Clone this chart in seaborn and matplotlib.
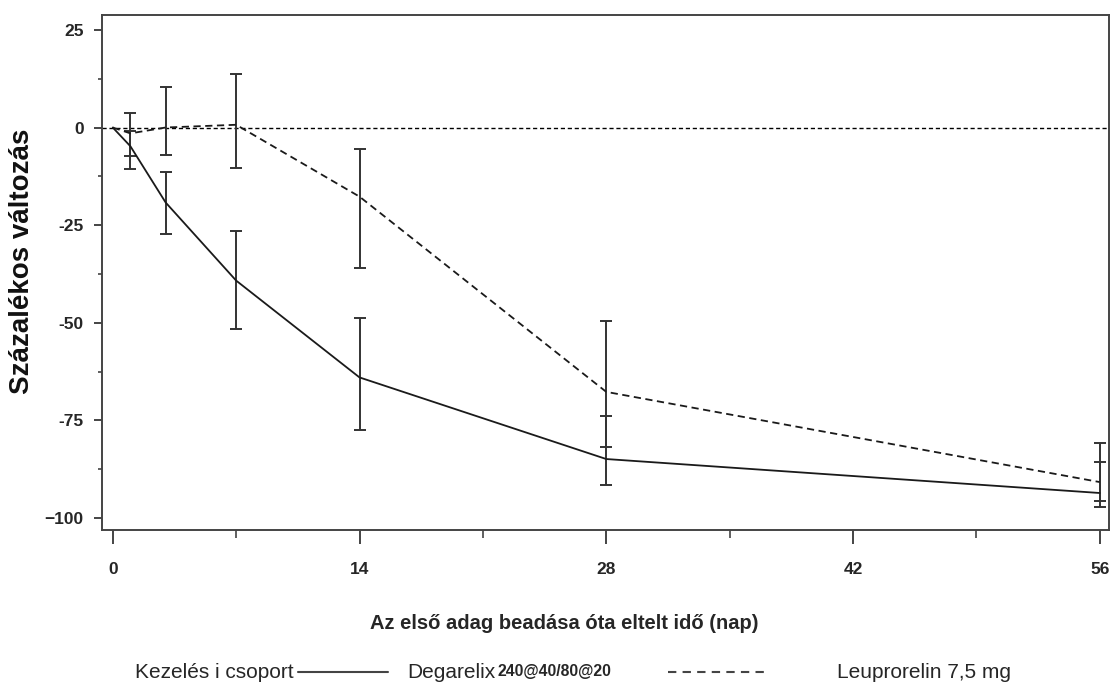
import numpy as np
import pandas as pd
import matplotlib
matplotlib.use("Agg")
import matplotlib.pyplot as plt
import seaborn as sns
from matplotlib.lines import Line2D
from matplotlib.ticker import MultipleLocator, FixedLocator

# data
days = [0, 1, 3, 7, 14, 28, 56]
degarelix_mean = [0, -4.8, -19.2, -39.2, -64.0, -84.9, -93.6]
degarelix_lo = [0, -10.5, -27.2, -51.5, -77.4, -91.5, -97.2]
degarelix_hi = [0, 3.6, -11.5, -26.4, -48.7, -73.8, -85.7]
leuprorelin_mean = [0, -1.5, 0.0, 0.7, -17.7, -67.7, -90.8]
leuprorelin_lo = [0, -7.2, -7.0, -10.3, -35.9, -81.8, -95.6]
leuprorelin_hi = [0, -1.0, 10.5, 13.6, -5.4, -49.5, -80.8]

group_names = ["Degarelix", "Leuprorelin"]
x_ticks = [0, 14, 28, 42, 56]
y_ticks = [25, 0, -25, -50, -75, -100]
y_tick_labels = ["25", "0", "-25", "-50", "-75", "\u2212100"]

sns.set_style("ticks")
plt.rcParams["font.family"] = ["Liberation Sans", "DejaVu Sans"]

df = pd.DataFrame({
    "day": days * 2,
    "value": degarelix_mean + leuprorelin_mean,
    "group": [group_names[0]] * len(days) + [group_names[1]] * len(days),
})

fig = plt.figure(figsize=(11.13, 6.84), dpi=100)
ax = fig.add_axes([0.0915, 0.225, 0.9045, 0.753])

ax.axhline(0, color="black", lw=1.0, ls=(0, (3, 2)), zorder=1)

sns.lineplot(data=df, x="day", y="value", style="group",
             dashes={"Degarelix": "", "Leuprorelin": (4, 2.5)},
             color="#1a1a1a", lw=1.3, legend=False, ax=ax, zorder=3)

# error bars (none at day 0)
for mean, lo, hi in [(degarelix_mean, degarelix_lo, degarelix_hi),
                     (leuprorelin_mean, leuprorelin_lo, leuprorelin_hi)]:
    m = np.array(mean[1:])
    err = np.vstack([m - np.array(lo[1:]), np.array(hi[1:]) - m])
    ax.errorbar(days[1:], m, yerr=err, fmt="none", ecolor="#333333",
                elinewidth=1.4, capsize=4, capthick=1.4, zorder=2)

ax.set_xlim(-0.62, 56.5)
ax.set_ylim(-103.1, 28.8)
ax.set_xticks(x_ticks)
ax.xaxis.set_minor_locator(FixedLocator([7, 21, 35, 49]))
ax.set_yticks(y_ticks)
ax.set_yticklabels(y_tick_labels)
ax.yaxis.set_minor_locator(MultipleLocator(12.5))

for sp in ax.spines.values():
    sp.set_color("#444444")
    sp.set_linewidth(1.4)

ax.tick_params(axis="x", which="major", length=10, width=1.4, pad=13,
               color="#444444", labelsize=12.5)
ax.tick_params(axis="x", which="minor", length=5.5, width=1.2, color="#444444")
ax.tick_params(axis="y", which="major", length=6, width=1.4, pad=7,
               color="#444444", labelsize=12.5)
ax.tick_params(axis="y", which="minor", length=3, width=1.2, color="#444444")
for lab in ax.get_xticklabels() + ax.get_yticklabels():
    lab.set_fontweight("bold")

ax.set_xlabel("Az első adag beadása óta eltelt idő (nap)", fontsize=14.5,
              fontweight="bold")
ax.xaxis.set_label_coords(0.459, -0.163)
ax.set_ylabel("Százalékos változás", fontsize=20, fontweight="bold",
              color="#111111")
ax.yaxis.set_label_coords(-0.066, 0.522)

# legend row at the bottom
ly = 1 - 672 / 684
fig.text(135 / 1113, ly, "Kezelés i csoport", fontsize=15,
         va="center", ha="left")
fig.add_artist(Line2D([298 / 1113, 388 / 1113], [ly, ly], color="#444444",
                      lw=1.5, transform=fig.transFigure))
fig.text(407 / 1113, ly, "Degarelix", fontsize=15,
         va="center", ha="left")
fig.text(497 / 1113, ly + 0.001, "240@40/80@20", fontsize=11.3,
         fontweight="bold", va="center", ha="left")
fig.add_artist(Line2D([668 / 1113, 765 / 1113], [ly, ly], color="#444444",
                      lw=1.5, ls=(0, (4, 3)), transform=fig.transFigure))
fig.text(837 / 1113, ly, "Leuprorelin 7,5 mg", fontsize=15,
         va="center", ha="left")

fig.savefig("out.png", dpi=100)
